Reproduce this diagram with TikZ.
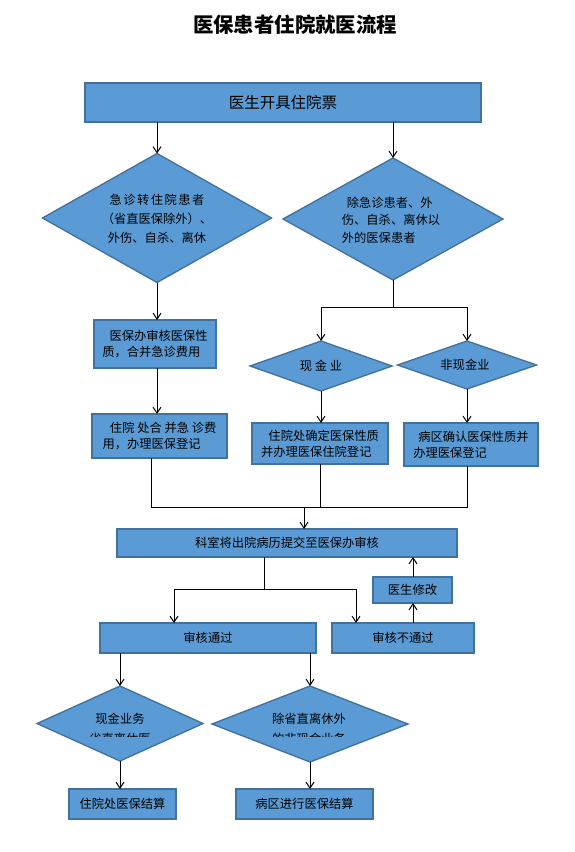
\documentclass[tikz,border=0pt]{standalone}
\usepackage{fontspec}
\setmainfont{Noto Sans CJK SC}
\usetikzlibrary{shapes.geometric,arrows.meta}
\definecolor{bfill}{HTML}{5B9BD5}
\definecolor{bdraw}{HTML}{41719C}
\begin{document}
\begin{tikzpicture}[x=0.75pt,y=-0.75pt,
  box/.style={rectangle, draw=bdraw, fill=bfill, line width=1pt, inner sep=0pt, outer sep=0pt,
    font=\fontsize{9.2}{12}\selectfont, align=left},
  dia/.style={diamond, draw=bdraw, fill=bfill, line width=1pt, inner sep=0pt, outer sep=0pt},
  txt/.style={inner sep=0pt, font=\fontsize{9.2}{12}\selectfont},
  line/.style={draw=black, line width=0.75pt},
  arr/.style={line, -{Straight Barb[length=4.5pt,width=6pt]}}]
\useasboundingbox (0,0) rectangle (574,852);
\fill[white] (0,0) rectangle (574,852);

% title
\node[inner sep=0pt, font=\fontsize{15.3}{18}\selectfont\bfseries] (title) at (295,25) {医保患者住院就医流程};

% top box
\node[box, minimum width=396*0.75pt, minimum height=39*0.75pt, font=\fontsize{11.6}{14}\selectfont] (top) at (283,102.5) {医生开具住院票};

% first-level diamonds
\node[dia, minimum width=229*0.75pt, minimum height=129*0.75pt] (d1) at (157,218) {};
\node[txt, align=center, font=\fontsize{9.2}{14.2}\selectfont] (t1) at (157,219)
  {{\addfontfeature{LetterSpace=12}急诊转住院患者}\\（省直医保除外）、\\外伤、自杀、离休};
\node[dia, minimum width=220*0.75pt, minimum height=122*0.75pt] (d2) at (393,219) {};
\node[txt, align=left, font=\fontsize{9.2}{13}\selectfont] (t2) at (391,220)
  {\hspace*{0.4em}除急诊患者、外\\伤、自杀、离休以\\外的医保患者};

% left column boxes
\node[box, minimum width=122*0.75pt, minimum height=48*0.75pt] (b1) at (155,344)
  {\hspace*{0.6em}医保办审核医保性\\质，合并急诊费用};
\node[box, minimum width=135*0.75pt, minimum height=44*0.75pt] (b2) at (159.5,436)
  {\hspace*{0.6em}住院 处合 并急 诊费\\用，办理医保登记};

% right branch diamonds
\node[dia, minimum width=142*0.75pt, minimum height=50*0.75pt] (d3) at (321,366) {};
\node[txt] (t3) at (321,366) {现 金 业};
\node[dia, minimum width=139*0.75pt, minimum height=48*0.75pt] (d4) at (467,365) {};
\node[txt] (t4) at (465,365) {非现金业};

\node[box, minimum width=136*0.75pt, minimum height=41*0.75pt] (b3) at (320,443.5)
  {\hspace*{0.6em}住院处确定医保性质\\并办理医保住院登记};
\node[box, minimum width=134*0.75pt, minimum height=43*0.75pt] (b4) at (471,444.5)
  {\hspace*{0.4em}病区确认医保性质并\\办理医保登记};

% submit box
\node[box, minimum width=340*0.75pt, minimum height=28*0.75pt] (k) at (287,543) {科室将出院病历提交至医保办审核};
\node[box, minimum width=79*0.75pt, minimum height=26*0.75pt] (fix) at (412.5,590) {医生修改};
\node[box, minimum width=216*0.75pt, minimum height=30*0.75pt] (pass) at (208,638) {审核通过};
\node[box, minimum width=142*0.75pt, minimum height=30*0.75pt] (fail) at (403,638) {审核不通过};

% bottom diamonds
\node[dia, minimum width=166*0.75pt, minimum height=75*0.75pt] (d5) at (120,723.5) {};
\node[dia, minimum width=196*0.75pt, minimum height=76*0.75pt] (d6) at (310,724) {};
\node[txt] (t5a) at (120,719) {现金业务};
\node[txt] (t6a) at (309,719) {除省直离休外};
\begin{scope}
  \clip (0,0) rectangle (574,736.5);
  \node[txt] (t5b) at (120,738.5) {省直离休医};
  \node[txt] (t6b) at (309,738.5) {的非现金业务};
\end{scope}

\node[box, minimum width=107*0.75pt, minimum height=30*0.75pt] (r1) at (122.5,804) {住院处医保结算};
\node[box, minimum width=137*0.75pt, minimum height=30*0.75pt] (r2) at (304.5,804) {病区进行医保结算};

% helper coordinates
\coordinate (s) at (393,307);
\coordinate (jl) at (151,507);
\coordinate (jm) at (304,507);
\coordinate (jr) at (467,507);
\coordinate (s2) at (264,589);
\coordinate (pa) at (174,589);
\coordinate (fa) at (356,589);
\coordinate (up) at (413,0);

% connectors
\draw[arr] (top.south -| d1.north) -- (d1.north);
\draw[arr] (top.south -| d2.north) -- (d2.north);
\draw[arr] (d1.south) -- (d1.south |- b1.north);
\draw[arr] (b1.south -| d1.south) -- (b2.north -| d1.south);
\draw[line] (d2.south) -- (s);
\draw[arr] (s) -| (d3.north);
\draw[arr] (s) -| (d4.north);
\draw[arr] (d3.south) -- (d3.south |- b3.north);
\draw[arr] (d4.south) -- (d4.south |- b4.north);
\draw[line] (b2.south -| jl) -- (jl) -- (jr) -- (b4.south -| jr);
\draw[line] (b3.south) -- (b3.south |- jl);
\draw[arr] (jm) -- (jm |- k.north);
\draw[line] (k.south -| s2) -- (s2);
\draw[line] (pa) -- (fa);
\draw[arr] (pa) -- (pa |- pass.north);
\draw[arr] (fa) -- (fa |- fail.north);
\draw[arr] (fail.north -| up) -- (fix.south -| up);
\draw[arr] (fix.north -| up) -- (k.south -| up);
\draw[arr] (pass.south -| d5.north) -- (d5.north);
\draw[arr] (pass.south -| d6.north) -- (d6.north);
\draw[arr] (d5.south) -- (d5.south |- r1.north);
\draw[arr] (d6.south) -- (d6.south |- r2.north);
\end{tikzpicture}
\end{document}
